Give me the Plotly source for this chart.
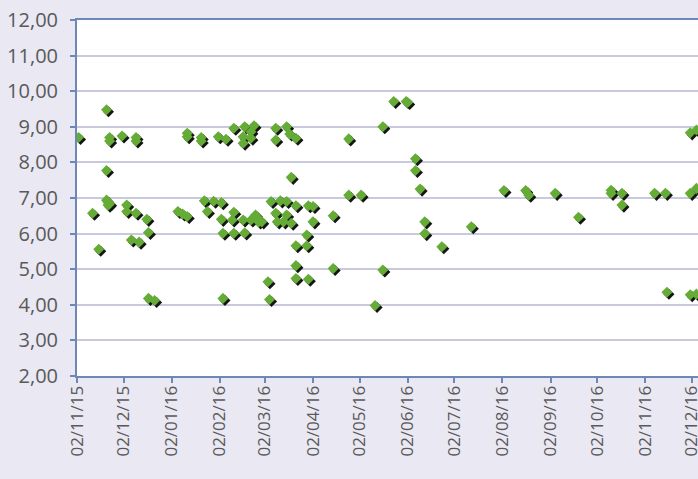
import plotly.graph_objects as go
import pandas as pd

dates = [
    "2015-11-03", "2015-11-12", "2015-11-16", "2015-11-21", "2015-11-21", "2015-11-21",
    "2015-11-22", "2015-11-23", "2015-11-22", "2015-11-23", "2015-11-23", "2015-12-01",
    "2015-12-04", "2015-12-04", "2015-12-07", "2015-12-10", "2015-12-10", "2015-12-10",
    "2015-12-12", "2015-12-17", "2015-12-18", "2015-12-18", "2015-12-22",
    "2016-01-06", "2016-01-09", "2016-01-12", "2016-01-12", "2016-01-12", "2016-01-21",
    "2016-01-21", "2016-01-23", "2016-01-25", "2016-01-29", "2016-02-01", "2016-02-03",
    "2016-02-03", "2016-02-04", "2016-02-04", "2016-02-06", "2016-02-10", "2016-02-11",
    "2016-02-11", "2016-02-11", "2016-02-17", "2016-02-18", "2016-02-18", "2016-02-17",
    "2016-02-17", "2016-02-22", "2016-02-22", "2016-02-24", "2016-02-22", "2016-02-25",
    "2016-02-26", "2016-02-27", "2016-02-29", "2016-03-04", "2016-03-05", "2016-03-06",
    "2016-03-09", "2016-03-09", "2016-03-09", "2016-03-10", "2016-03-12", "2016-03-14",
    "2016-03-16", "2016-03-16", "2016-03-16", "2016-03-18", "2016-03-19", "2016-03-19",
    "2016-03-22", "2016-03-22", "2016-03-22", "2016-03-22", "2016-03-22", "2016-03-29",
    "2016-03-29", "2016-03-30", "2016-03-30", "2016-04-02", "2016-04-02", "2016-04-15",
    "2016-04-15", "2016-04-25", "2016-04-25", "2016-05-03", "2016-05-12", "2016-05-17",
    "2016-05-17", "2016-05-24", "2016-06-01", "2016-06-02", "2016-06-07", "2016-06-07",
    "2016-06-10", "2016-06-13", "2016-06-13", "2016-06-24", "2016-07-13", "2016-08-03",
    "2016-08-17", "2016-08-19", "2016-09-05", "2016-09-20", "2016-10-11", "2016-10-11",
    "2016-10-18", "2016-10-18", "2016-11-08", "2016-11-15", "2016-11-16", "2016-12-01",
    "2016-12-01", "2016-12-01", "2016-12-05", "2016-12-05", "2016-12-05",
]
values = [
    8.70, 6.57, 5.56, 7.77, 9.48, 6.94,
    6.88, 6.84, 6.80, 8.70, 8.60, 8.74,
    6.80, 6.62, 5.82, 8.70, 8.60, 6.57,
    5.76, 6.40, 6.03, 4.18, 4.12,
    6.62, 6.55, 6.48, 8.82, 8.72, 8.70,
    8.60, 6.92, 6.62, 6.91, 8.72, 6.87,
    6.40, 4.18, 6.01, 8.65, 6.38, 6.01,
    6.60, 8.96, 6.38, 6.02, 9.00, 8.72,
    8.54, 8.68, 8.86, 9.03, 6.38, 6.52,
    6.45, 6.33, 6.33, 4.65, 4.15, 6.90,
    8.96, 8.63, 6.57, 6.33, 6.92, 6.33,
    6.90, 6.52, 9.00, 8.80, 6.29, 7.58,
    8.68, 6.78, 5.66, 5.10, 4.74, 5.66,
    5.96, 6.78, 4.72, 6.76, 6.33, 6.50,
    5.02, 8.66, 7.08, 7.08, 3.98, 9.00,
    4.98, 9.71, 9.71, 9.68, 8.10, 7.77,
    7.25, 6.33, 6.00, 5.63, 6.19, 7.21,
    7.21, 7.08, 7.13, 6.46, 7.22, 7.13,
    7.13, 6.80, 7.13, 7.13, 4.35, 7.13,
    4.28, 8.83, 8.91, 7.27, 4.30,
]

# visible part of the x axis (the chart is cut by the window on the right)
x_start, x_visible_end = "2015-11-02", "2016-12-06"
y_min, y_max = 2, 12

WIN_W = 698
W, H = 740, 479
ML, MT, MB = 77, 20, 103
MR = 0
ph = H - MT - MB

t0, tv = pd.Timestamp(x_start), pd.Timestamp(x_visible_end)
px_per_day = (WIN_W - ML) / ((tv - t0).total_seconds() / 86400)
t1 = t0 + pd.Timedelta(days=(W - ML - MR) / px_per_day)

# shadow offset in pixels, converted through the axis scales
dx = pd.Timedelta(days=2.0 / px_per_day)
dy = 2.0 * (y_max - y_min) / ph
fmt = "%Y-%m-%d %H:%M:%S"

axis_col = "#6f87b6"
grid_col = "#c9c9de"
text_col = "#595959"
green = "#64ac36"

fig = go.Figure()
# empty trace so the visible base axes exist
fig.add_trace(go.Scatter(x=[], y=[], mode="markers", xaxis="x", yaxis="y",
                         showlegend=False, hoverinfo="skip"))
fig.add_trace(go.Scatter(x=dates, y=values, mode="markers", xaxis="x2", yaxis="y2",
                         marker=dict(symbol="diamond", size=8.5, color="#151515", line=dict(width=0)),
                         hoverinfo="skip", showlegend=False))
fig.add_trace(go.Scatter(x=dates, y=values, mode="markers", xaxis="x3", yaxis="y3",
                         marker=dict(symbol="diamond", size=8.5, color=green, line=dict(width=0)),
                         showlegend=False))

xfont = dict(family="Open Sans, sans-serif", size=17, color=text_col)
yfont = dict(family="Open Sans, sans-serif", size=20, color=text_col)
fig.update_layout(
    width=W, height=H, autosize=False,
    margin=dict(l=ML, r=MR, t=MT, b=MB),
    paper_bgcolor="#e9e8f3",
    plot_bgcolor="#ffffff",
    separators=", ",
    font=xfont,
    xaxis=dict(type="date", range=[t0.strftime(fmt), t1.strftime(fmt)], tick0="2015-11-02",
               dtick="M1", tickformat="%d/%m/%y", tickangle=-90, showgrid=False, zeroline=False,
               showline=True, linecolor=axis_col, linewidth=2, mirror=True,
               ticks="outside", ticklen=5, tickcolor=axis_col, tickwidth=1.5,
               ticklabelstandoff=-4, tickfont=xfont),
    yaxis=dict(range=[y_min, y_max], dtick=1, tickformat=".2f", showgrid=True,
               gridcolor=grid_col, gridwidth=1.5, zeroline=False,
               showline=True, linecolor=axis_col, linewidth=2,
               ticks="outside", ticklen=5, tickcolor=axis_col, tickwidth=1.5,
               ticklabelstandoff=8, tickfont=yfont),
    xaxis2=dict(type="date", overlaying="x", range=[(t0 - dx).strftime(fmt), (t1 - dx).strftime(fmt)],
                visible=False),
    yaxis2=dict(overlaying="y", range=[y_min + dy, y_max + dy], visible=False),
    xaxis3=dict(type="date", overlaying="x", range=[t0.strftime(fmt), t1.strftime(fmt)], visible=False),
    yaxis3=dict(overlaying="y", range=[y_min, y_max], visible=False),
)

fig.write_html("out.html", config={"responsive": False, "displayModeBar": False},
               post_script="document.body.style.margin='0';document.body.style.overflow='hidden';")
